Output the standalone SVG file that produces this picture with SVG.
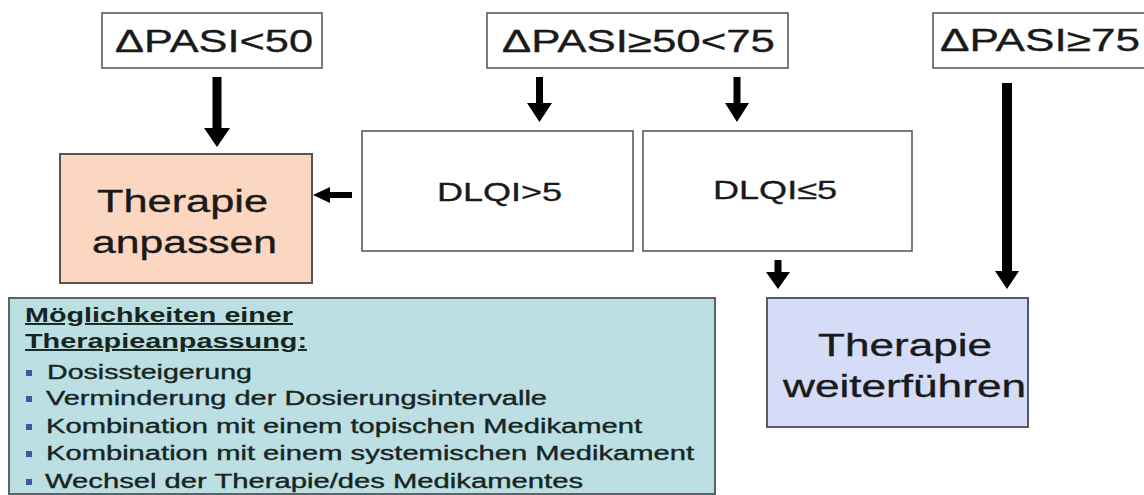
<svg xmlns="http://www.w3.org/2000/svg" width="1144" height="495" viewBox="0 0 1144 495">
  <style>
    .box { fill: #ffffff; stroke: #5a5a5a; stroke-width: 1.6; }
    .adjust { fill: #fbd6c0; stroke: #5a5450; stroke-width: 2; }
    .keep { fill: #d4dcf7; stroke: #5a5a66; stroke-width: 2; }
    .info { fill: #bcdfe4; stroke: #5a6466; stroke-width: 2; }
    .lbl { font-family: "Liberation Sans", Arial, sans-serif; fill: #1a1a1a; stroke: #1a1a1a; stroke-width: 0.35; }
    .big { font-size: 31px; }
    .mid { font-size: 26px; }
    .small { font-size: 19.5px; fill: #17251f; stroke: #17251f; }
    .head { font-size: 19.5px; font-weight: bold; fill: #17251f; stroke: none; text-decoration: underline; }
    .bullet { fill: #3d5a9e; }
    .arrow { fill: #000000; }
  </style>

  <!-- entry conditions -->
  <g id="pasi-lt50">
    <rect class="box" x="102" y="13" width="220" height="55"/>
    <text class="lbl big" x="115" y="52" textLength="198" lengthAdjust="spacingAndGlyphs">ΔPASI&lt;50</text>
  </g>
  <g id="pasi-50-75">
    <rect class="box" x="487" y="13" width="301" height="55"/>
    <text class="lbl big" x="502" y="52" textLength="273" lengthAdjust="spacingAndGlyphs">ΔPASI≥50&lt;75</text>
  </g>
  <g id="pasi-ge75">
    <rect class="box" x="933" y="13" width="220" height="55"/>
    <text class="lbl big" x="940" y="51" textLength="200" lengthAdjust="spacingAndGlyphs">ΔPASI≥75</text>
  </g>

  <!-- DLQI split -->
  <g id="dlqi-gt5">
    <rect class="box" x="362" y="131" width="271" height="120"/>
    <text class="lbl mid" x="437" y="201" textLength="125" lengthAdjust="spacingAndGlyphs">DLQI&gt;5</text>
  </g>
  <g id="dlqi-le5">
    <rect class="box" x="643" y="131" width="269" height="120"/>
    <text class="lbl mid" x="713" y="199" textLength="124" lengthAdjust="spacingAndGlyphs">DLQI≤5</text>
  </g>

  <!-- outcomes -->
  <g id="therapie-anpassen">
    <rect class="adjust" x="60" y="154" width="252" height="129"/>
    <text class="lbl big" x="97" y="212" textLength="171" lengthAdjust="spacingAndGlyphs">Therapie</text>
    <text class="lbl big" x="92" y="253" textLength="185" lengthAdjust="spacingAndGlyphs">anpassen</text>
  </g>
  <g id="therapie-weiterfuehren">
    <rect class="keep" x="767" y="298" width="261" height="129"/>
    <text class="lbl big" x="818" y="356" textLength="174" lengthAdjust="spacingAndGlyphs">Therapie</text>
    <text class="lbl big" x="783" y="397" textLength="243" lengthAdjust="spacingAndGlyphs">weiterführen</text>
  </g>

  <!-- options list -->
  <g id="anpassung-optionen">
    <rect class="info" x="9" y="298" width="706" height="196"/>
    <text class="lbl head" x="25" y="322" textLength="268" lengthAdjust="spacingAndGlyphs">Möglichkeiten einer</text>
    <text class="lbl head" x="25" y="348" textLength="282" lengthAdjust="spacingAndGlyphs">Therapieanpassung:</text>
    <rect class="bullet" x="26" y="370" width="6" height="6"/>
    <text class="lbl small" x="47" y="379" textLength="205" lengthAdjust="spacingAndGlyphs">Dosissteigerung</text>
    <rect class="bullet" x="26" y="396" width="6" height="6"/>
    <text class="lbl small" x="46" y="405" textLength="501" lengthAdjust="spacingAndGlyphs">Verminderung der Dosierungsintervalle</text>
    <rect class="bullet" x="26" y="424" width="6" height="6"/>
    <text class="lbl small" x="46" y="433" textLength="596" lengthAdjust="spacingAndGlyphs">Kombination mit einem topischen Medikament</text>
    <rect class="bullet" x="26" y="451" width="6" height="6"/>
    <text class="lbl small" x="46" y="460" textLength="648" lengthAdjust="spacingAndGlyphs">Kombination mit einem systemischen Medikament</text>
    <rect class="bullet" x="26" y="479" width="6" height="6"/>
    <text class="lbl small" x="45" y="488" textLength="538" lengthAdjust="spacingAndGlyphs">Wechsel der Therapie/des Medikamentes</text>
  </g>

  <!-- block arrows -->
  <g id="connectors">
    <path class="arrow" d="M212.5,77 H221.5 V128 H230 L217,147 L204,128 H212.5 Z"/>
    <path class="arrow" d="M536,77 H543 V103 H552 L539.5,122 L527,103 H536 Z"/>
    <path class="arrow" d="M733.5,77 H740.5 V103 H749 L737,122 L725,103 H733.5 Z"/>
    <path class="arrow" d="M352,192 V198 H330 V203 L313,195 L330,187 V192 Z"/>
    <path class="arrow" d="M774.5,260 H781.5 V272 H790 L778,289 L766,272 H774.5 Z"/>
    <path class="arrow" d="M1002,83 H1012 V271 H1019 L1007,289 L995,271 H1002 Z"/>
  </g>
</svg>
